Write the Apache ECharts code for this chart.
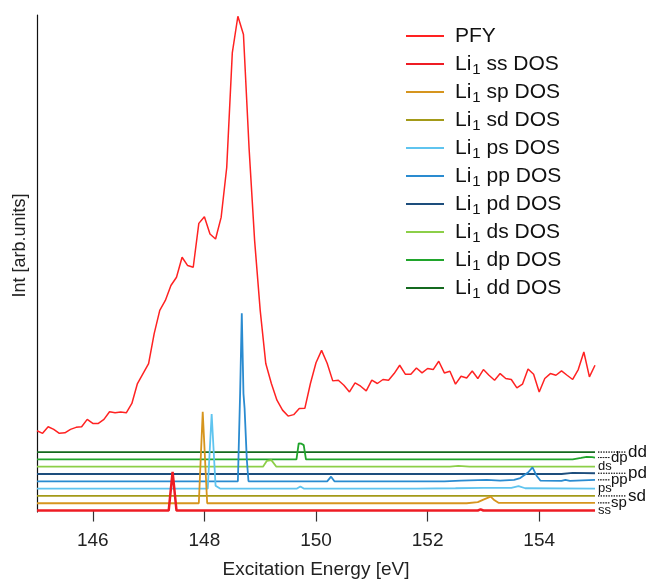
<!DOCTYPE html>
<html>
<head>
<meta charset="utf-8">
<script src="https://cdn.jsdelivr.net/npm/echarts@6/dist/echarts.min.js"></script>
<style>
html,body{margin:0;padding:0;background:#fff;}
#chart{width:650px;height:579px;}
</style>
</head>
<body>
<div id="chart"></div>
<script>
// ---------------- data ----------------
// PFY sampling grid (eV) and intensities (arb. units)
const pfyStart = 145.0;
const pfyStep = 0.1;
const pfyInt = [10.91,10.56,11.46,11.11,10.56,10.64,11.11,11.38,11.46,12.47,
  11.92,11.92,12.47,13.51,13.37,13.47,13.37,14.65,17.38,18.74,
  20.11,24.20,27.38,28.74,30.79,31.92,34.65,33.52,33.29,39.29,
  40.20,37.84,37.16,40.11,46.93,62.62,67.63,65.13,49.66,36.93,
  27.38,20.11,17.38,15.10,13.74,12.92,13.12,13.97,13.98,17.38,
  20.22,21.92,20.15,17.74,17.83,17.15,16.23,17.46,17.01,16.37,
  17.83,17.38,17.93,17.83,18.74,19.88,18.65,18.65,19.51,18.83,
  19.43,19.29,20.42,18.83,19.06,17.29,18.38,18.14,19.10,18.06,
  19.29,18.51,17.83,18.74,18.06,17.93,16.78,17.29,19.37,18.65,
  16.23,18.06,18.74,18.51,19.10,18.51,17.93,19.29,21.69,18.28,19.88];

// Partial DOS curves: [energy eV, intensity]
const ssDOS = [[145,0],[147.36,0],[147.43,5.3],[147.5,0],[152.9,0],[152.95,0.15],[153.0,0],[155,0]];
const spDOS = [[145,0],[147.9,0],[147.97,12.5],[148.05,0],[152.7,0],[152.9,0.15],[153.0,0.5],[153.13,0.9],[153.2,0.4],[153.27,0.05],[155,0.05]];
const sdDOS = [[145,0],[155,0]];
const psDOS = [[145,0],[148.06,0],[148.13,10.2],[148.2,0.4],[148.28,0],[149.66,0],[149.72,0.3],[149.78,0],[151.8,0],[152.5,0.05],[153.0,0.1],[153.5,0.1],[153.63,0.35],[153.75,0.05],[155,0]];
const ppDOS = [[145,0],[148.6,0],[148.64,12],[148.67,23],[148.7,12],[148.72,10],[148.76,3],[148.79,0],[150.2,0],[150.27,0.63],[150.33,0],[152.3,0],[152.6,0.1],[153.06,0.2],[153.3,0.1],[153.55,0.2],[153.66,0.45],[153.8,1.2],[153.88,1.9],[153.95,0.8],[154.02,0.1],[154.4,0.05],[154.47,0.2],[154.55,0.05],[155,0.2]];
const pdDOS = [[145,0],[154.4,0],[154.6,0.15],[155,0.1]];
const dsDOS = [[145,0],[149.05,0],[149.12,0.8],[149.2,0.9],[149.29,0],[152.4,0],[152.55,0.1],[152.75,0],[155,0]];
const dpDOS = [[145,0],[149.65,0],[149.69,2.2],[149.74,2.15],[149.78,1.95],[149.82,0],[154.6,0],[154.75,0.2],[154.85,0.35],[154.95,0.3],[155,0.25]];
const ddDOS = [[145,0],[155,0]];

const dosNames = ['Li1 ss DOS','Li1 sp DOS','Li1 sd DOS','Li1 ps DOS','Li1 pp DOS','Li1 pd DOS','Li1 ds DOS','Li1 dp DOS','Li1 dd DOS'];
const dosTags = ['ss','sp','sd','ps','pp','pd','ds','dp','dd'];
const dosOffsets = [0,1,2,3,4,5,6,7,8];
const xTicks = [146,148,150,152,154];

// ---------------- styles ----------------
const dosData = [ssDOS, spDOS, sdDOS, psDOS, ppDOS, pdDOS, dsDOS, dpDOS, ddDOS];
const dosColors = ['#ee1c24','#d6951e','#a39a18','#5fc4ef','#2a8bd0','#1d4d7c','#8ccf48','#20a52c','#14691f'];
const dosWidths = [2.5,1.8,1.8,1.8,1.8,1.8,1.8,1.8,1.8];
const FONT = 'Liberation Sans, Arial, Helvetica, sans-serif';

const pfyData = pfyInt.map((v, i) => [pfyStart + i * pfyStep, v]);

const series = [{
  name: 'PFY',
  type: 'line',
  data: pfyData,
  symbol: 'none',
  lineStyle: {color: '#ff2222', width: 1.5},
  itemStyle: {color: '#ff2222'},
  z: 20
}];

dosData.forEach((arr, k) => {
  const col = k % 3;
  series.push({
    name: dosNames[k],
    type: 'line',
    data: arr.map(p => [p[0], p[1] + dosOffsets[k]]),
    symbol: 'none',
    lineStyle: {color: dosColors[k], width: dosWidths[k]},
    itemStyle: {color: dosColors[k]},
    z: 19 - k,
    endLabel: {
      show: true,
      distance: 3,
      formatter: () => col === 0 ? '{t0|' + dosTags[k] + '}' : '{l' + col + '|}{t' + col + '|' + dosTags[k] + '}',
      rich: {
        t0: {fontSize: 13, color: '#111', fontFamily: FONT},
        t1: {fontSize: 15, color: '#111', fontFamily: FONT, padding: [0,0,0,1]},
        t2: {fontSize: 17, color: '#111', fontFamily: FONT, padding: [0,0,0,2]},
        l1: {width: 12, height: 0, borderColor: '#222', borderWidth: 1, borderType: [1.2, 1.4]},
        l2: {width: 28, height: 0, borderColor: '#222', borderWidth: 1, borderType: [1.2, 1.4]}
      }
    }
  });
});

const legendItems = [{name: 'PFY'}].concat(dosNames.map(n => ({name: n})));

const chart = echarts.init(document.getElementById('chart'), null, {renderer: 'canvas'});
chart.setOption({
  animation: false,
  backgroundColor: '#fff',
  grid: {left: 37, right: 55, top: 15, bottom: 67, containLabel: false, outerBoundsMode: 'none'},
  legend: {
    orient: 'vertical',
    left: 401,
    top: 17,
    icon: 'rect',
    itemWidth: 38,
    itemHeight: 2,
    itemGap: 0,
    data: legendItems,
    formatter: name => name === 'PFY' ? '{g|}{n|PFY}{s|}' : '{g|}{n|Li}{s|1}{n|' + name.slice(3) + '}',
    textStyle: {
      fontFamily: FONT,
      fontSize: 21,
      color: '#111',
      rich: {
        g: {width: 6, height: 1},
        n: {fontSize: 21, lineHeight: 28, height: 28, color: '#111', fontFamily: FONT},
        s: {fontSize: 15, lineHeight: 15, padding: [12,0,0,1], color: '#111', fontFamily: FONT}
      }
    }
  },
  xAxis: {
    type: 'value',
    min: 145,
    max: 155,
    name: 'Excitation Energy [eV]',
    nameLocation: 'middle',
    nameGap: 48,
    nameTextStyle: {fontSize: 19, color: '#222', fontFamily: FONT},
    axisLine: {show: false},
    axisTick: {show: true, customValues: xTicks, length: 11, lineStyle: {color: '#333', width: 1.2}},
    axisLabel: {customValues: xTicks, fontSize: 19, color: '#222', fontFamily: FONT, margin: 19},
    splitLine: {show: false}
  },
  yAxis: {
    type: 'value',
    min: -0.2,
    max: 67.8,
    name: 'Int [arb.units]',
    nameLocation: 'middle',
    nameGap: 8,
    nameTextStyle: {fontSize: 18, color: '#222', fontFamily: FONT, padding: [0,0,0,36]},
    axisLine: {show: true, onZero: false, lineStyle: {color: '#111', width: 1.2}},
    axisTick: {show: false},
    axisLabel: {show: false},
    splitLine: {show: false}
  },
  series: series
});
</script>
</body>
</html>
